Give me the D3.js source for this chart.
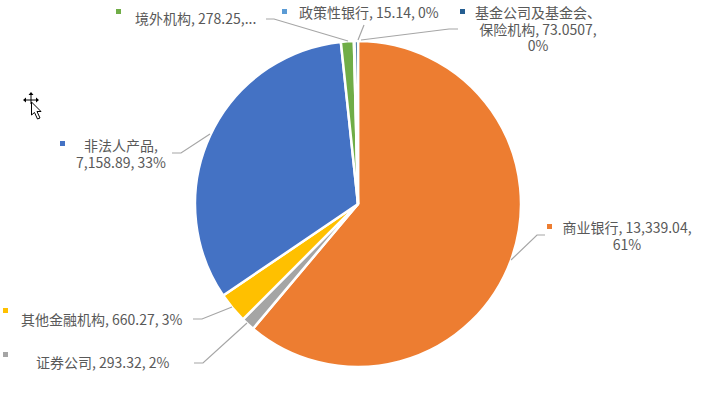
<!DOCTYPE html>
<html><head><meta charset="utf-8">
<script src="https://cdn.jsdelivr.net/npm/d3@7"></script>
<style>html,body{margin:0;padding:0;background:#fff}svg{display:block}
text{font-family:"Noto Sans CJK SC","Noto Sans",sans-serif;font-size:14px;fill:#595959}</style>
</head><body><svg id="c" width="716" height="406"></svg>
<script>
const categories=["商业银行","证券公司","其他金融机构","非法人产品","境外机构","政策性银行","基金公司及基金会、保险机构"];
const values=[13339.04,293.32,660.27,7158.89,278.25,15.14,73.0507];
const colors=["#ED7D31","#A5A5A5","#FFC000","#4472C4","#70AD47","#5B9BD5","#255E91"];
const labelLines=[
 ["商业银行, 13,339.04,","61%"],
 ["证券公司, 293.32, 2%"],
 ["其他金融机构, 660.27, 3%"],
 ["非法人产品,","7,158.89, 33%"],
 ["境外机构, 278.25,..."],
 ["政策性银行, 15.14, 0%"],
 ["基金公司及基金会、","保险机构, 73.0507,","0%"]
];
// layout of the callouts (annotation placement, not data)
const layout=[
 {mx:547,my:224,tx:627,ty:227,anchor:"middle",leader:[[545,235],[537,235],[511,260]]},
 {mx:3,my:352,tx:36,ty:362,anchor:"start",leader:[[194,363],[203,363],[247,323]]},
 {mx:3,my:308,tx:21,ty:319,anchor:"start",leader:[[193,319],[202,319],[232,307]]},
 {mx:60,my:141,tx:121,ty:145,anchor:"middle",leader:[[172,153],[181,153],[210,134]]},
 {mx:116,my:9,tx:135,ty:18,anchor:"start",leader:[[266,19],[274,19],[348,41]]},
 {mx:282,my:9,tx:299,ty:12,anchor:"start",leader:[[364,25],[358,40]]},
 {mx:460,my:9,tx:538,ty:12,anchor:"middle",leader:[[458,29],[449,29],[361,40]]}
];
const svg=d3.select("#c");
const cx=358,cy=204,R=163,lh=16.5;
const pie=d3.pie().sort(null).value(d=>d)(values);
const arc=d3.arc().innerRadius(0).outerRadius(R);
svg.append("g").attr("transform",`translate(${cx},${cy})`)
 .selectAll("path").data(pie).join("path")
 .attr("d",arc).attr("fill",(d,i)=>colors[i]).attr("stroke","#fff").attr("stroke-width",2.5);
const line=d3.line();
svg.append("g").selectAll("path").data(layout).join("path")
 .attr("d",d=>line(d.leader)).attr("fill","none").attr("stroke","#A6A6A6").attr("stroke-width",1.2);
svg.append("g").selectAll("rect").data(layout).join("rect")
 .attr("x",d=>d.mx).attr("y",d=>d.my).attr("width",5).attr("height",5).attr("fill",(d,i)=>colors[i]);
const t=svg.append("g").selectAll("text").data(layout).join("text")
 .attr("text-anchor",d=>d.anchor).attr("dominant-baseline","central");
t.each(function(d,i){
 d3.select(this).selectAll("tspan").data(labelLines[i]).join("tspan")
  .attr("x",d.tx).attr("y",(s,k)=>d.ty+k*lh).text(s=>s);
});
// mouse cursor captured in the reference
const cur=svg.append("g").attr("transform","translate(31,100)");
cur.append("path").attr("d","M-6,0H6M0,-6V4").attr("stroke","#000").attr("stroke-width",1).attr("fill","none");
cur.append("path").attr("d","M-8,0L-5,-2.500V2.500ZM8,0L5,-2.500V2.500ZM0,-8L-2.500,-5H2.500Z").attr("fill","#000");
cur.append("path").attr("d","M0.500,2V15L3.500,12.500L6.500,19L9,18L6,11.500L10,11.500Z").attr("fill","#fff").attr("stroke","#000").attr("stroke-width",1);
</script></body></html>
